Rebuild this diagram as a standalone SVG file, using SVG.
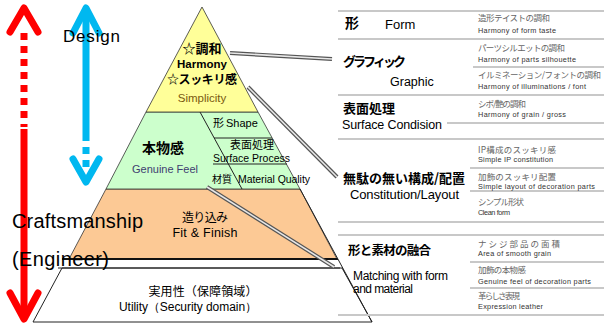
<svg xmlns="http://www.w3.org/2000/svg" width="604" height="325" viewBox="0 0 604 325">
<style>
.jp{font-family:"Noto Sans CJK JP","Noto Sans CJK SC",sans-serif}
.en{font-family:"Liberation Sans",Arial,sans-serif}
.b{font-weight:bold}
.mid{text-anchor:middle}
.rule{stroke:#c8c8c8;stroke-width:2}
.sj{font-family:"Noto Sans CJK JP",sans-serif;font-size:8.5px;fill:#666}
.se{font-family:"Liberation Sans",Arial,sans-serif;font-size:7.3px;fill:#333}
.edge{stroke:#222;stroke-width:1;fill:none}
.dbl1{stroke:#555;stroke-width:4;fill:none}
.dbl2{stroke:#e8e8e8;stroke-width:1.6;fill:none}
.red{stroke:#ff0000;stroke-width:7;fill:none;stroke-linecap:round;stroke-linejoin:round}
.blue{stroke:#00b8f0;stroke-width:7;fill:none;stroke-linecap:round;stroke-linejoin:round}
</style>
<rect width="604" height="325" fill="#fff"/>

<!-- axes arrows -->
<g id="axis-craftsmanship">
  <polyline class="red" points="10,32 24,8 38,32"/>
  <line x1="24" y1="33" x2="24" y2="127" stroke="#ff0000" stroke-width="7" stroke-dasharray="7 6"/>
  <line x1="24" y1="129" x2="24" y2="318" stroke="#ff0000" stroke-width="7"/>
  <polyline class="red" points="10,293 24,319 38,293"/>
</g>
<g id="axis-design">
  <polyline class="blue" points="73,33 86,8 99,33"/>
  <line x1="86" y1="12" x2="86" y2="141" stroke="#00b8f0" stroke-width="7"/>
  <line x1="86" y1="147" x2="86" y2="170" stroke="#00b8f0" stroke-width="7" stroke-dasharray="7 6"/>
  <polyline class="blue" points="73,159 86,182 99,159"/>
</g>

<!-- pyramid -->
<g id="layer-utility">
  <polygon points="62,268 342,268 372,322 33,322" fill="#fff" stroke="#222" stroke-width="1"/>
  <line x1="58" y1="268" x2="340" y2="268" stroke="#222" stroke-width="1"/>
  <text class="jp mid" x="203" y="296" font-size="12" textLength="109">実用性（保障領域）</text>
  <text class="en mid" x="188" y="311" font-size="12" textLength="138">Utility（Security domain）</text>
</g>
<g id="layer-fit">
  <polygon points="106,189 300,189 337,259 69,259" fill="#fcc995" stroke="#333" stroke-width="0.8"/>
  <line x1="62" y1="259" x2="338" y2="259" stroke="#111" stroke-width="1.8"/>
  <text class="jp mid" x="205" y="222" font-size="12" textLength="46">造り込み</text>
  <text class="en mid" x="205" y="237" font-size="12.5" textLength="65">Fit &amp; Finish</text>
</g>
<g id="layer-genuine">
  <polygon points="146,112 258,112 300,189 106,189" fill="#ccffcc" stroke="#333" stroke-width="0.8"/>
  <line class="edge" x1="200" y1="112" x2="242" y2="189"/>
  <line class="edge" x1="214" y1="138" x2="272" y2="138"/>
  <line class="edge" x1="213" y1="164" x2="287" y2="164"/>
  <text class="jp b mid" x="163" y="153" font-size="14">本物感</text>
  <text class="en mid" x="165" y="173" font-size="11" fill="#404070">Genuine Feel</text>
  <text class="jp" x="213" y="127" font-size="11">形</text>
  <text class="en" x="226" y="127" font-size="11">Shape</text>
  <text class="jp" x="230" y="149" font-size="11">表面処理</text>
  <text class="en" x="213" y="162" font-size="10.5" textLength="77">Surface Process</text>
  <text class="jp" x="212" y="183" font-size="10">材質</text>
  <text class="en" x="238" y="183" font-size="10.5" textLength="72">Material Quality</text>
</g>
<g id="layer-harmony">
  <polygon points="202,7 146,112 258,112" fill="#ffff99" stroke="#333" stroke-width="0.8"/>
  <text class="jp b mid" x="202" y="53" font-size="13">☆調和</text>
  <text class="en b mid" x="202" y="67.5" font-size="11.5">Harmony</text>
  <text class="jp b mid" x="202" y="84" font-size="12" textLength="70">☆スッキリ感</text>
  <text class="en mid" x="202" y="102" font-size="11.5" fill="#7a5a10">Simplicity</text>
</g>
<line class="edge" x1="300" y1="189" x2="372" y2="322"/>

<!-- connectors -->
<g id="connectors">
  <line class="dbl1" x1="230" y1="53" x2="332" y2="59"/>
  <line class="dbl2" x1="230" y1="53" x2="332" y2="59"/>
  <line class="dbl1" x1="248" y1="87" x2="337" y2="177"/>
  <line class="dbl2" x1="248" y1="87" x2="337" y2="177"/>
  <line class="dbl1" x1="207" y1="187" x2="334" y2="267"/>
  <line class="dbl2" x1="207" y1="187" x2="334" y2="267"/>
</g>

<!-- table rules -->
<g id="table-rules">
  <line class="rule" x1="338" y1="11" x2="604" y2="11"/>
  <line class="rule" x1="338" y1="39" x2="604" y2="39"/>
  <line class="rule" x1="473" y1="67" x2="604" y2="67"/>
  <line class="rule" x1="338" y1="95" x2="604" y2="95"/>
  <line class="rule" x1="447" y1="123" x2="604" y2="123"/>
  <line class="rule" x1="338" y1="139" x2="604" y2="139"/>
  <line class="rule" x1="470" y1="168" x2="604" y2="168"/>
  <line class="rule" x1="470" y1="191" x2="604" y2="191"/>
  <line class="rule" x1="338" y1="222" x2="604" y2="222"/>
  <line class="rule" x1="338" y1="235" x2="604" y2="235"/>
  <line class="rule" x1="470" y1="262" x2="604" y2="262"/>
  <line class="rule" x1="470" y1="288" x2="604" y2="288"/>
  <line class="rule" x1="338" y1="315" x2="604" y2="315"/>
</g>

<g id="row-form">
  <text class="jp b" x="345" y="28" font-size="14">形</text>
  <text class="en" x="385" y="29" font-size="13">Form</text>
  <text class="sj" x="478" y="21" textLength="72">造形テイストの調和</text>
  <text class="se" x="478" y="33" textLength="78">Harmony of form taste</text>
</g>
<g id="row-graphic">
  <text class="jp b" x="343" y="66" font-size="13" textLength="63">グラフィック</text>
  <text class="en" x="390" y="86" font-size="12.5">Graphic</text>
  <text class="sj" x="478" y="51" textLength="87">パーツシルエットの調和</text>
  <text class="se" x="478" y="62" textLength="98">Harmony of parts silhouette</text>
  <text class="sj" x="478" y="78" textLength="123">イルミネーション/フォントの調和</text>
  <text class="se" x="478" y="89" textLength="108">Harmony of illuminations / font</text>
</g>
<g id="row-surface">
  <text class="jp b" x="343" y="113" font-size="13">表面処理</text>
  <text class="en" x="342" y="129" font-size="12.5" textLength="100">Surface Condision</text>
  <text class="sj" x="478" y="107" textLength="48">シボ/艶の調和</text>
  <text class="se" x="478" y="117" textLength="88">Harmony of grain / gross</text>
</g>
<g id="row-constitution">
  <text class="jp b" x="343" y="183" font-size="13" textLength="122">無駄の無い構成/配置</text>
  <text class="en" x="350" y="199" font-size="13" textLength="109">Constitution/Layout</text>
  <text class="sj" x="478" y="153" textLength="78">IP構成のスッキリ感</text>
  <text class="se" x="478" y="162" textLength="75">Simple IP constitution</text>
  <text class="sj" x="478" y="180" textLength="78">加飾のスッキリ配置</text>
  <text class="se" x="478" y="189" textLength="117">Simple layout of decoration parts</text>
  <text class="sj" x="478" y="205" textLength="46">シンプル形状</text>
  <text class="se" x="478" y="215" textLength="32">Clean form</text>
</g>
<g id="row-matching">
  <text class="jp b" x="348" y="255" font-size="12.5" textLength="83">形と素材の融合</text>
  <text class="en" x="353" y="280" font-size="12" textLength="95">Matching with form</text>
  <text class="en" x="353" y="293" font-size="12" textLength="60">and material</text>
  <text class="sj" x="478" y="246.5" textLength="82">ナシジ部品の面積</text>
  <text class="se" x="478" y="256" textLength="73">Area of smooth grain</text>
  <text class="sj" x="478" y="273" textLength="48">加飾の本物感</text>
  <text class="se" x="478" y="284" textLength="113">Genuine feel of decoration parts</text>
  <text class="sj" x="478" y="299" textLength="42">革らしさ表現</text>
  <text class="se" x="478" y="309" textLength="65">Expression leather</text>
</g>

<!-- axis labels -->
<text class="en" x="63" y="42" font-size="17" textLength="57">Design</text>
<text class="en" x="12" y="228" font-size="20" textLength="131">Craftsmanship</text>
<text class="en" x="12" y="266" font-size="20" textLength="97">(Engineer)</text>
</svg>
